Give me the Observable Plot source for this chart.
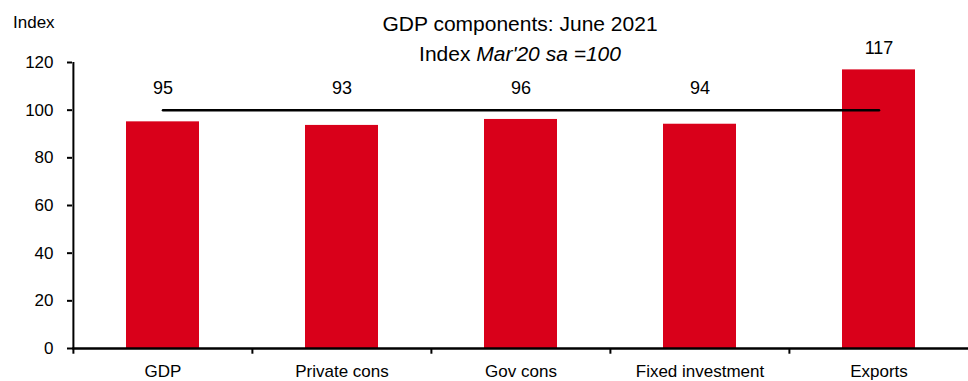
<!DOCTYPE html>
<html>
<head>
<meta charset="utf-8">
<script src="https://cdn.jsdelivr.net/npm/d3@7"></script>
<script src="https://cdn.jsdelivr.net/npm/@observablehq/plot@0.6"></script>
<style>
  html, body { margin: 0; padding: 0; background: #fff; }
  #wrap { position: relative; width: 968px; height: 381px; font-family: "Liberation Sans", Arial, sans-serif; color: #000; }
  #title { position: absolute; left: 72px; width: 896px; top: 9px; text-align: center; font-size: 21px; line-height: 30px; }
  #ylab { position: absolute; left: 13px; top: 14px; font-size: 17px; line-height: 17px; }
  svg { display: block; }
</style>
</head>
<body>
<div id="wrap">
  <div id="chart"></div>
  <div id="title">GDP components: June 2021<br>Index <i>Mar'20 sa =100</i></div>
  <div id="ylab">Index</div>
</div>
<script>
const categories = ["GDP", "Private cons", "Gov cons", "Fixed investment", "Exports"];
const values = [95.1, 93.6, 96.1, 94.1, 116.9];
const labels = ["95", "93", "96", "94", "117"];
const baseline = 100;
const yTicks = [0, 20, 40, 60, 80, 100, 120];

const data = categories.map((c, i) => ({category: c, value: values[i], label: labels[i]}));

const W = 968, H = 381, mL = 72, mR = 0, mT = 62, mB = 33;
const step = (W - mL - mR) / categories.length;

const chart = Plot.plot({
  width: W, height: H,
  marginLeft: mL, marginRight: mR, marginTop: mT, marginBottom: mB,
  style: {fontFamily: "'Liberation Sans', Arial, sans-serif", fontSize: "17px", color: "#000", background: "white", overflow: "visible"},
  x: {domain: categories, paddingInner: 0.593, paddingOuter: 0.2965},
  y: {domain: [0, 120]},
  marks: [
    Plot.barY(data, {x: "category", y: "value", fill: "#d9001a"}),
    Plot.axisY({ticks: yTicks, tickSize: 5, tickPadding: 14, label: null, fontSize: 17, strokeWidth: 2}),
    Plot.ruleX([categories[0]], {x: d => d, dx: -step / 2, y1: 0, y2: 120, stroke: "#000", strokeWidth: 2}),
    Plot.ruleX(categories, {x: d => d, dx: -step / 2, y1: 0, y2: -2.4, stroke: "#000", strokeWidth: 2}),
    Plot.ruleY([0], {stroke: "#000", strokeWidth: 2.5}),
    Plot.axisX({tickSize: 0, tickPadding: 16, label: null, fontSize: 17}),
    Plot.lineY(data, {x: "category", y: () => baseline, stroke: "#000", strokeWidth: 2.5}),
    Plot.text(data, {x: "category", y: d => Math.max(d.value, baseline), text: "label", dy: -21.5, fontSize: 18, fill: "#000"})
  ]
});
document.getElementById("chart").appendChild(chart);
</script>
</body>
</html>
